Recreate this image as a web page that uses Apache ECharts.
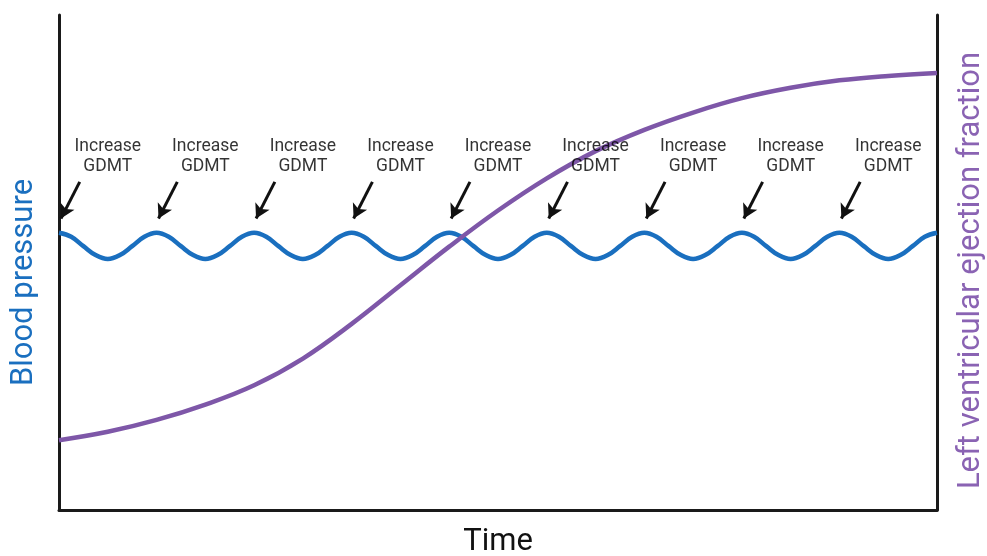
<!DOCTYPE html>
<html>
<head>
<meta charset="utf-8">
<script src="https://cdn.jsdelivr.net/npm/echarts@6/dist/echarts.min.js"></script>
<style>html,body{margin:0;padding:0;background:#fff;}#chart{width:987px;height:556px;}</style>
</head>
<body>
<div id="chart"></div>
<script>
// Time positions (arbitrary units; 4 units = one wave period)
const bpTime = [0,0.5,1,1.5,2,2.5,3,3.5,4,4.5,5,5.5,6,6.5,7,7.5,8,8.5,9,9.5,10,10.5,11,11.5,12,12.5,13,13.5,14,14.5,15,15.5,16,16.5,17,17.5,18,18.5,19,19.5,20,20.5,21,21.5,22,22.5,23,23.5,24,24.5,25,25.5,26,26.5,27,27.5,28,28.5,29,29.5,30,30.5,31,31.5,32,32.5,33,33.5,34,34.5,35,35.5,36];
const bpValues = [56.0,55.2,53.3,51.5,50.7,51.5,53.3,55.2,
                  56.0,55.2,53.3,51.5,50.7,51.5,53.3,55.2,
                  56.0,55.2,53.3,51.5,50.7,51.5,53.3,55.2,
                  56.0,55.2,53.3,51.5,50.7,51.5,53.3,55.2,
                  56.0,55.2,53.3,51.5,50.7,51.5,53.3,55.2,
                  56.0,55.2,53.3,51.5,50.7,51.5,53.3,55.2,
                  56.0,55.2,53.3,51.5,50.7,51.5,53.3,55.2,
                  56.0,55.2,53.3,51.5,50.7,51.5,53.3,55.2,
                  56.0,55.2,53.3,51.5,50.7,51.5,53.3,55.2,
                  56.0];
const lvefTime = [0,2,4,6,8,10,12,14,16,18,20,22,24,26,28,30,32,34,36];
const lvefValues = [14.1,15.8,18.2,21.3,25.2,30.6,37.6,45.4,53.2,60.5,67.0,72.5,76.8,80.3,83.2,85.3,86.8,87.7,88.3];
const gdmtTimes = [0,4,8,12,16,20,24,28,32];
const gdmtLabel = 'Increase\nGDMT';

const BLUE = '#1a6fbf';
const PURPLE = '#7e57a8';

const chart = echarts.init(document.getElementById('chart'));

const arrowLines = gdmtTimes.map(t => [
  { coord: [t + 0.85, 66.3] },
  { coord: [t + 0.08, 58.9] }
]);
const labelPoints = gdmtTimes.map(t => [t + 2, 71.3]);

chart.setOption({
  animation: false,
  grid: { left: 59, right: 50, top: 15, bottom: 46, containLabel: false, outerBoundsMode: 'none' },
  xAxis: {
    type: 'value', min: 0, max: 36,
    name: 'Time', nameLocation: 'middle', nameGap: 17,
    nameTextStyle: { color: '#111', fontSize: 31, fontFamily: 'Roboto' },
    axisLine: { show: true, lineStyle: { color: '#1a1a1a', width: 3 } },
    axisTick: { show: false }, axisLabel: { show: false }, splitLine: { show: false }
  },
  yAxis: [
    {
      type: 'value', min: 0, max: 100, position: 'left',
      name: 'Blood pressure', nameLocation: 'middle', nameGap: 19,
      nameTextStyle: { color: BLUE, fontSize: 31, fontFamily: 'Roboto', padding: [0, 40, 0, 0] },
      axisLine: { show: true, lineStyle: { color: '#1a1a1a', width: 3 } },
      axisTick: { show: false }, axisLabel: { show: false }, splitLine: { show: false }
    },
    {
      type: 'value', min: 0, max: 100, position: 'right',
      name: 'Left ventricular ejection fraction', nameLocation: 'middle', nameGap: 19,
      nameTextStyle: { color: '#8a63b3', fontSize: 31, fontFamily: 'Roboto', padding: [0, 16, 0, 0] },
      axisLine: { show: true, lineStyle: { color: '#1a1a1a', width: 3 } },
      axisTick: { show: false }, axisLabel: { show: false }, splitLine: { show: false }
    }
  ],
  series: [
    {
      name: 'Blood pressure', type: 'line', yAxisIndex: 0,
      data: bpTime.map((t, i) => [t, bpValues[i]]),
      smooth: 0.4, showSymbol: false, z: 2,
      lineStyle: { color: BLUE, width: 4.5 },
      markLine: {
        silent: true, symbol: ['none', 'arrow'], symbolSize: [12, 14],
        label: { show: false },
        lineStyle: { color: '#111', width: 3, type: 'solid' },
        data: arrowLines
      }
    },
    {
      name: 'LVEF', type: 'line', yAxisIndex: 1,
      data: lvefTime.map((t, i) => [t, lvefValues[i]]),
      smooth: 0.4, showSymbol: false, z: 3,
      lineStyle: { color: PURPLE, width: 4.5 }
    },
    {
      name: 'GDMT', type: 'scatter', yAxisIndex: 0, silent: true,
      data: labelPoints, symbolSize: 0, z: 4,
      label: {
        show: true, position: 'inside', formatter: gdmtLabel,
        color: '#000', fontSize: 17.5, lineHeight: 20, fontFamily: 'Roboto', align: 'center', verticalAlign: 'middle'
      }
    }
  ]
});
</script>
</body>
</html>
